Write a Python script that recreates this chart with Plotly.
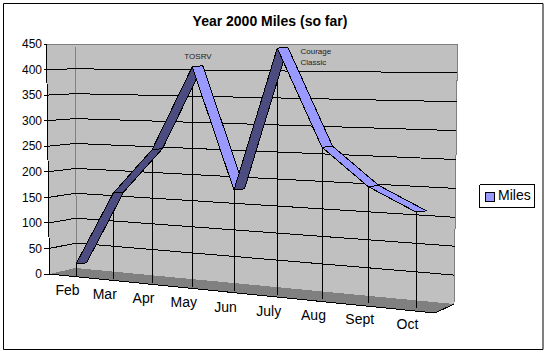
import plotly.graph_objects as go

# ---- data
months = ["Feb", "Mar", "Apr", "May", "Jun", "July", "Aug", "Sept", "Oct"]
miles = [8, 155, 244, 406, 175, 442, 262, 195, 155]
y_ticks = [0, 50, 100, 150, 200, 250, 300, 350, 400, 450]
title = "Year 2000 Miles (so far)"
series_name = "Miles"

# ---- colours
WALL, FLOOR, EDGE = "#C0C0C0", "#808080", "#808080"
LIGHT, DARK = "#9999FF", "#4C4C80"

W, H = 547, 354
LEFT = 43
Y0_PX, PX_PER_UNIT = 274.0, 230.0 / 450.0


def ay(p):
    """screen row -> value on the left-hand axis"""
    return (Y0_PX - p) / PX_PER_UNIT


# ---- oblique projection of the 3-D chart box
def cat_x(i):
    return 76 + 36.5 * i + 0.75 * i * i


def wall_t(x):
    return (x - 76) / 378.0


def wall_row(v, x):
    t = wall_t(x)
    back = 268 - v * 0.498
    right = 304 - v * 0.578
    return back + t * (right - back)


def line(xs, rows, color="black", width=1):
    return go.Scatter(x=xs, y=[None if r is None else ay(r) for r in rows], mode="lines",
                      line=dict(color=color, width=width), hoverinfo="skip", showlegend=False)


def poly(xs, rows, fill, edge=None, width=1):
    return go.Scatter(x=xs, y=[ay(r) for r in rows], mode="lines", fill="toself", fillcolor=fill,
                      line=dict(color=edge or fill, width=width if edge else 0),
                      hoverinfo="skip", showlegend=False)


fig = go.Figure()

# chart box: walls and floor
fig.add_trace(poly([46.5, 457.5, 454, 435, 49.5], [44, 44, 304, 313, 274], WALL))
fig.add_trace(poly([49.5, 75.5, 454, 435], [274, 268, 304, 313], FLOOR))
fig.add_trace(line([46.5, 457.5, 454], [44, 44, 304], EDGE))
fig.add_trace(line([75, 76.5], [44, 268], EDGE))
fig.add_trace(line([46.5, 49.5, 435, 454], [44, 274, 313, 304]))

# gridlines (side wall + back wall)
gx, gr = [], []
for v in y_ticks[1:-1]:
    f = v / 450.0
    gx += [44, 49.5 - 3 * f, 76.5 - 2 * f, 454 + 3.5 * f, None]
    gr += [Y0_PX - v * PX_PER_UNIT, Y0_PX - v * PX_PER_UNIT, 268 - v * 0.498, 304 - v * 0.578, None]
fig.add_trace(line(gx, gr))
fig.add_trace(line([44, 49.5, None, 43.5, 46.5], [274, 274, None, 44, 44]))

# drop lines
dx, dr = [], []
for i, v in enumerate(miles):
    x = cat_x(i)
    dx += [x, x, None]
    dr += [wall_row(v, x), wall_row(0, x) + 7.5, None]
fig.add_trace(line(dx, dr))

# ribbon
DX, DY = 10.5, 1.2
for i in range(len(miles) - 1):
    x0, x1 = cat_x(i), cat_x(i + 1)
    r0, r1 = wall_row(miles[i], x0), wall_row(miles[i + 1], x1)
    color = DARK if miles[i + 1] > miles[i] else LIGHT
    fig.add_trace(poly([x0, x1, x1 + DX, x0 + DX, x0], [r0, r1, r1 - DY, r0 - DY, r0], color, "black"))

# category labels
fig.add_trace(go.Scatter(
    x=[cat_x(i) - 8.5 for i in range(len(months))],
    y=[ay(291 + 4.25 * i) for i in range(len(months))],
    text=months, mode="text", textposition="middle center",
    textfont=dict(family="Liberation Sans", size=14, color="black"),
    hoverinfo="skip", showlegend=False, cliponaxis=False))

# call-outs
fig.add_trace(go.Scatter(
    x=[198, 300.5, 300.5], y=[ay(57), ay(52), ay(63)],
    text=["TOSRV", "Courage", "Classic"], mode="text",
    textposition=["middle center", "middle right", "middle right"],
    textfont=dict(family="Liberation Sans", size=8, color="#222222"),
    hoverinfo="skip", showlegend=False))

# legend
fig.add_trace(go.Scatter(x=[489.5], y=[ay(197)], mode="markers",
                         marker=dict(symbol="square", size=9, color=LIGHT, line=dict(color="black", width=1)),
                         hoverinfo="skip", showlegend=False))
fig.add_trace(go.Scatter(x=[498], y=[ay(196.5)], text=[series_name], mode="text", textposition="middle right",
                         textfont=dict(family="Liberation Sans", size=14, color="black"),
                         hoverinfo="skip", showlegend=False))
fig.add_trace(line([479.5, 534.5, 534.5, 479.5, 479.5], [184.5, 184.5, 207.5, 207.5, 184.5]))


def px(x):
    return (x - LEFT) / (W - LEFT)


fig.update_layout(
    width=W, height=H, margin=dict(l=LEFT, r=0, t=0, b=0),
    paper_bgcolor="white", plot_bgcolor="white", showlegend=False,
    font=dict(family="Liberation Sans", color="black"),
    title=dict(text=f"<b>{title}</b>", x=270 / W, xanchor="center", y=1 - 21 / H, yanchor="middle",
               font=dict(family="Liberation Sans", size=14, color="black")),
    xaxis=dict(range=[LEFT, W], visible=False, fixedrange=True),
    yaxis=dict(range=[ay(H), ay(0)], tickvals=y_ticks, ticktext=[str(v) for v in y_ticks],
               showgrid=False, zeroline=False, showline=False, ticks="", fixedrange=True,
               tickfont=dict(family="Liberation Sans", size=12, color="black")),
    shapes=[dict(type="rect", xref="paper", yref="paper", x0=px(3.5), x1=px(543), y0=1 - 349.5 / H, y1=1 - 3.5 / H,
                 line=dict(color="black", width=1), layer="below")],
)

fig.write_html("out.html", config=dict(displayModeBar=False),
               post_script="document.body.style.margin='0';"
                           "var s=document.createElement('style');"
                           "s.textContent='.scatterlayer path{shape-rendering:crispEdges}';"
                           "document.head.appendChild(s);")
